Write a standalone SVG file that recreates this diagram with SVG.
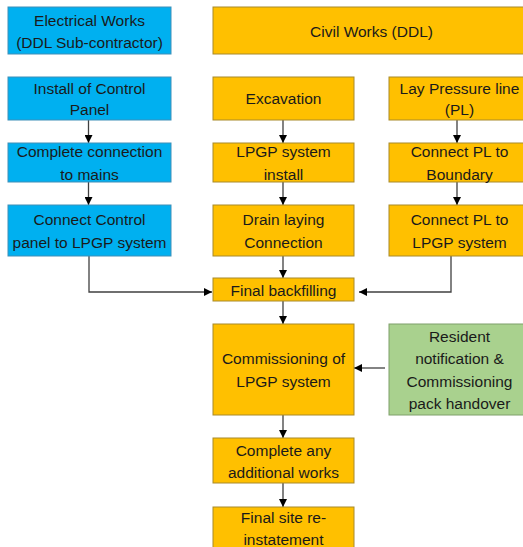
<svg xmlns="http://www.w3.org/2000/svg" width="523" height="547" viewBox="0 0 523 547">
<style>
text{font-family:"Liberation Sans",Arial,sans-serif;font-size:15.5px;fill:#1a1a1a;text-anchor:middle}
.b{fill:#00B0F0;stroke:#3F8FB8;stroke-width:1}
.o{fill:#FFC000;stroke:#A88A2A;stroke-width:1}
.g{fill:#A9D18E;stroke:#7FA06A;stroke-width:1}
.c{fill:none;stroke:#404040;stroke-width:1.3}
</style>
<defs>
<marker id="ah" viewBox="0 0 10 10" refX="10" refY="5" markerWidth="8" markerHeight="8" markerUnits="userSpaceOnUse" orient="auto">
<path d="M0,0 L10,5 L0,10 Z" fill="#000"/>
</marker>
</defs>
<g id="connectors">
<line class="c" x1="88.5" y1="120" x2="88.5" y2="143" marker-end="url(#ah)"/>
<line class="c" x1="88.5" y1="182" x2="88.5" y2="205" marker-end="url(#ah)"/>
<line class="c" x1="283" y1="120" x2="283" y2="143" marker-end="url(#ah)"/>
<line class="c" x1="283" y1="182" x2="283" y2="205" marker-end="url(#ah)"/>
<line class="c" x1="457" y1="120" x2="457" y2="143" marker-end="url(#ah)"/>
<line class="c" x1="457" y1="182" x2="457" y2="205" marker-end="url(#ah)"/>
<line class="c" x1="283" y1="256" x2="283" y2="278" marker-end="url(#ah)"/>
<polyline class="c" points="89,256 89,292 212,292" marker-end="url(#ah)"/>
<polyline class="c" points="451,256 451,292 359,292" marker-end="url(#ah)"/>
<line class="c" x1="283" y1="301" x2="283" y2="324" marker-end="url(#ah)"/>
<line class="c" x1="385" y1="368" x2="354" y2="368" marker-end="url(#ah)"/>
<line class="c" x1="283" y1="415" x2="283" y2="438" marker-end="url(#ah)"/>
<line class="c" x1="283" y1="483" x2="283" y2="507" marker-end="url(#ah)"/>
</g>
<g id="electrical-works"><rect class="b" x="8" y="7" width="163" height="47"/><text x="89.5" y="26">Electrical Works<tspan x="89.5" y="48">(DDL Sub-contractor)</tspan></text></g>
<g id="civil-works"><rect class="o" x="213" y="7" width="320" height="47"/><text x="371.5" y="37">Civil Works (DDL)</text></g>
<g id="install-control-panel"><rect class="b" x="8" y="77" width="163" height="43"/><text x="89.5" y="94">Install of Control<tspan x="89.5" y="115">Panel</tspan></text></g>
<g id="complete-connection"><rect class="b" x="8" y="143" width="163" height="39"/><text x="89.5" y="157">Complete connection<tspan x="89.5" y="180">to mains</tspan></text></g>
<g id="connect-control-panel"><rect class="b" x="8" y="205" width="163" height="51"/><text x="89.5" y="225">Connect Control<tspan x="89.5" y="248">panel to LPGP system</tspan></text></g>
<g id="excavation"><rect class="o" x="213" y="77" width="141" height="43"/><text x="283.5" y="104">Excavation</text></g>
<g id="lpgp-install"><rect class="o" x="213" y="143" width="141" height="39"/><text x="283.5" y="157">LPGP system<tspan x="283.5" y="180">install</tspan></text></g>
<g id="drain-laying"><rect class="o" x="213" y="205" width="141" height="51"/><text x="283.5" y="225">Drain laying<tspan x="283.5" y="248">Connection</tspan></text></g>
<g id="lay-pressure-line"><rect class="o" x="389" y="77" width="141" height="43"/><text x="459.5" y="94">Lay Pressure line<tspan x="459.5" y="115">(PL)</tspan></text></g>
<g id="connect-pl-boundary"><rect class="o" x="389" y="143" width="141" height="39"/><text x="459.5" y="157">Connect PL to<tspan x="459.5" y="180">Boundary</tspan></text></g>
<g id="connect-pl-lpgp"><rect class="o" x="389" y="205" width="141" height="51"/><text x="459.5" y="225">Connect PL to<tspan x="459.5" y="248">LPGP system</tspan></text></g>
<g id="final-backfilling"><rect class="o" x="213" y="278" width="141" height="23"/><text x="283.5" y="296">Final backfilling</text></g>
<g id="commissioning"><rect class="o" x="213" y="324" width="141" height="91"/><text x="283.5" y="364">Commissioning of<tspan x="283.5" y="387">LPGP system</tspan></text></g>
<g id="resident-notification"><rect class="g" x="389" y="324" width="141" height="91"/><text x="459.5" y="342">Resident<tspan x="459.5" y="364">notification &amp;</tspan><tspan x="459.5" y="387">Commissioning</tspan><tspan x="459.5" y="409">pack handover</tspan></text></g>
<g id="complete-additional"><rect class="o" x="213" y="438" width="141" height="45"/><text x="283.5" y="456">Complete any<tspan x="283.5" y="478">additional works</tspan></text></g>
<g id="final-site"><rect class="o" x="213" y="507" width="141" height="50"/><text x="283.5" y="523">Final site re-<tspan x="283.5" y="545">instatement</tspan></text></g>
</svg>
